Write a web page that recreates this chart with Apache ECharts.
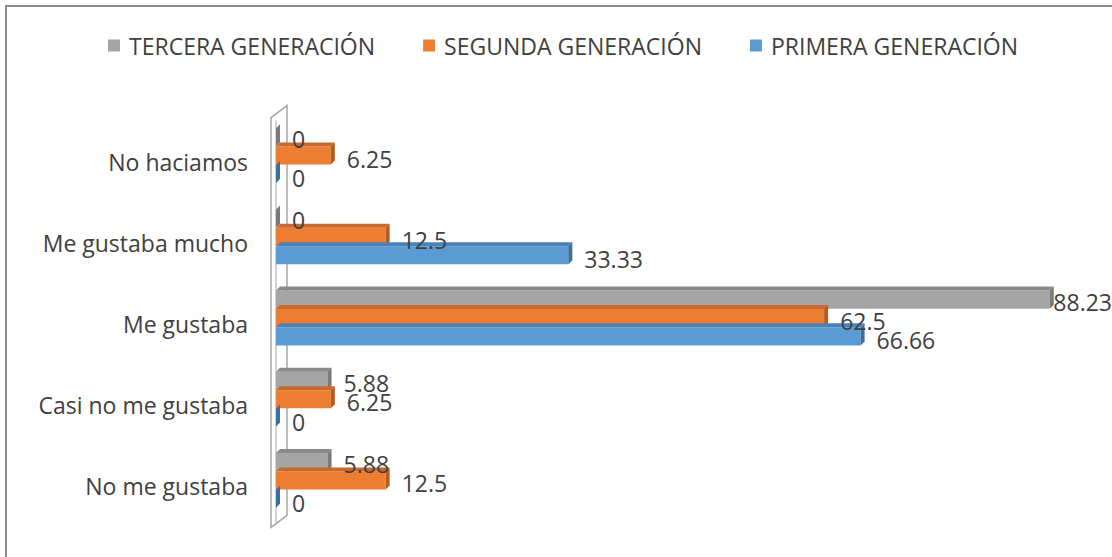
<!DOCTYPE html>
<html>
<head>
<meta charset="utf-8">
<script src="https://cdn.jsdelivr.net/npm/echarts@6/dist/echarts.min.js"></script>
<style>html,body{margin:0;padding:0;background:#fff}#c{width:1112px;height:557px}</style>
</head>
<body>
<div id="c"></div>
<script>
const categories = ['No me gustaba', 'Casi no me gustaba', 'Me gustaba', 'Me gustaba mucho', 'No haciamos'];
const primera = [0, 0, 66.66, 33.33, 0];
const segunda = [12.5, 6.25, 62.5, 12.5, 6.25];
const tercera = [5.88, 5.88, 88.23, 0, 0];
const seriesNames = ['TERCERA GENERACIÓN', 'SEGUNDA GENERACIÓN', 'PRIMERA GENERACIÓN'];

const FONT = 'Open Sans';
const TXT = '#404040';
const FS = 23;
const styles = [
  {front: '#A5A5A5', top: '#8a8a8a', side: '#7a7a7a', off: -1},
  {front: '#ED7D31', top: '#c9682a', side: '#b45b1f', off: 0},
  {front: '#5B9BD5', top: '#4a82b6', side: '#3d6f9e', off: 1}
];
const seriesData = [tercera, segunda, primera];

function makeRender(si) {
  const st = styles[si];
  return function (params, api) {
    const v = api.value(0), ci = api.value(1);
    const p0 = api.coord([0, ci]);
    const p1 = api.coord([v, ci]);
    const band = api.size([0, 1])[1];
    const h = band * 0.222;
    const yc = p0[1] - 6 + st.off * h * 1.02;
    const y = yc - h / 2;
    const x0 = p0[0], x1 = p1[0];
    const d = 4;
    const txt = String(v);
    const tw = echarts.format.getTextRect ? echarts.format.getTextRect(txt, FS + 'px "' + FONT + '"').width : txt.length * 13;
    const lx = Math.min(x1 + 16, api.getWidth() - tw);
    return {
      type: 'group',
      children: [
        {type: 'rect', shape: {x: x0, y: y, width: x1 - x0, height: h}, style: {fill: st.front}},
        {type: 'polygon', shape: {points: [[x0, y], [x0 + d, y - d], [x1 + d, y - d], [x1, y]]}, style: {fill: st.top}},
        {type: 'polygon', shape: {points: [[x1, y], [x1 + d, y - d], [x1 + d, y + h - d], [x1, y + h]]}, style: {fill: st.side}},
        {type: 'text', z2: 100, style: {text: txt, x: lx, y: yc + 3 + st.off, verticalAlign: 'middle', align: 'left', fill: TXT, font: FS + 'px "' + FONT + '"'}}
      ]
    };
  };
}

const chart = echarts.init(document.getElementById('c'), null, {renderer: 'svg'});
const option = {
  animation: false,
  backgroundColor: '#fff',
  legend: {
    top: 29, left: 103,
    itemWidth: 12, itemHeight: 12, itemGap: 48,
    icon: 'rect',
    textStyle: {fontFamily: FONT, fontSize: FS, color: TXT, padding: [0, 0, 0, 4]},
    data: seriesNames.map((n, i) => ({name: n, itemStyle: {color: styles[i].front}}))
  },
  grid: {left: 276, top: 121, width: 877, height: 406, outerBoundsMode: 'none'},
  xAxis: {type: 'value', min: 0, max: 100, show: false},
  yAxis: {
    type: 'category', data: categories,
    axisLine: {show: false}, axisTick: {show: false}, splitLine: {show: false},
    axisLabel: {margin: 28, fontFamily: FONT, fontSize: FS, color: TXT}
  },
  series: seriesData.map((arr, si) => ({
    name: seriesNames[si],
    type: 'custom',
    itemStyle: {color: styles[si].front},
    renderItem: makeRender(si),
    encode: {x: 0, y: 1},
    data: arr.map((v, i) => [v, i]),
    z: 3
  }))
};
chart.setOption(option);

// 3D wall and chart border drawn from axis positions
const wallTop = chart.convertToPixel({gridIndex: 0}, [0, 4])[1] - 41;
const wallBot = chart.convertToPixel({gridIndex: 0}, [0, 0])[1] + 41;
const wallX = chart.convertToPixel({gridIndex: 0}, [0, 0])[0];
chart.setOption({
  graphic: [
    {type: 'rect', shape: {x: 6, y: 6, width: 1200, height: 700}, style: {fill: 'none', stroke: '#8c8c8c', lineWidth: 2}, z: 0},
    {type: 'polygon', shape: {points: [[wallX - 5, wallTop - 3], [wallX + 11, wallTop - 15], [wallX + 11, wallBot - 12], [wallX - 5, wallBot]]}, style: {fill: '#fff', stroke: '#a6a6a6', lineWidth: 1.5}, z: 1},
    {type: 'line', shape: {x1: wallX, y1: wallTop, x2: wallX, y2: wallBot - 3}, style: {stroke: '#a6a6a6', lineWidth: 1}, z: 1}
  ]
});
</script>
</body>
</html>
